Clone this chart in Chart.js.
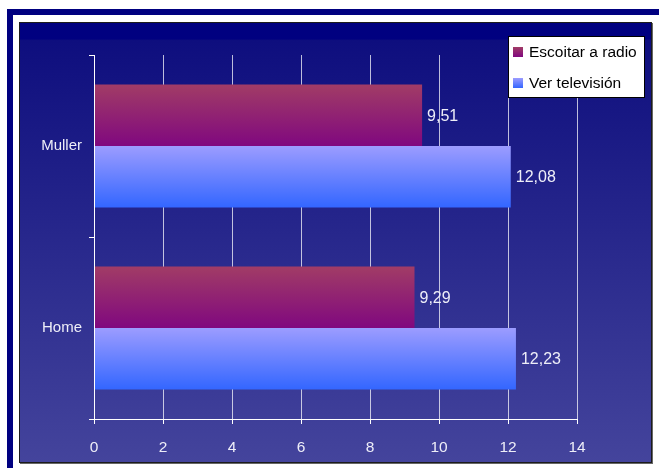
<!DOCTYPE html>
<html>
<head>
<meta charset="utf-8">
<script src="https://cdn.jsdelivr.net/npm/chart.js@4.4.1/dist/chart.umd.min.js"></script>
<style>
  html, body { margin:0; padding:0; background:#fff; width:659px; height:468px; overflow:hidden; }
  #frame { position:absolute; left:7px; top:9px; width:720px; height:540px; border:6px solid #000080; }
  #panel { position:absolute; left:19px; top:22px; width:631px; height:439px; border:1px solid #1c1c1c; box-shadow:1px 1px 0 #666; }
  canvas { display:block; }
</style>
</head>
<body>
<div id="frame"></div>
<div id="panel"><canvas id="chart" width="631" height="439"></canvas></div>
<script>
/* ── DATA ── */
const CATEGORIES = ['Muller', 'Home'];
const SERIES = ['Escoitar a radio', 'Ver televisión'];
const RADIO = [9.51, 9.29];
const TV = [12.08, 12.23];
const X_MIN = 0, X_MAX = 14, X_STEP = 2;

/* ── STYLE ── */
const RADIO_GRAD = ['#a13c66', '#80087f'];
const TV_GRAD = ['#9c9cff', '#3366ff'];
const TEXT = '#eeeef8';
const FONT = "'Liberation Sans', Arial, sans-serif";
const CAT_PCT = 0.676;

function barFill(c, colors) {
  const chart = c.chart, y = chart.scales && chart.scales.y;
  if (!y || c.dataIndex == null || !isFinite(y.height) || !y.height) return colors[1];
  const center = y.getPixelForValue(c.dataIndex);
  const half = (y.height / CATEGORIES.length) * CAT_PCT / 2;
  const top = c.datasetIndex === 0 ? center - half : center;
  if (!isFinite(top) || !isFinite(half)) return colors[1];
  const g = chart.ctx.createLinearGradient(0, top, 0, top + half);
  g.addColorStop(0, colors[0]);
  g.addColorStop(1, colors[1]);
  return g;
}

/* ── PLUGINS ── */
const background = {
  id: 'background',
  beforeDraw(chart) {
    const { ctx, width, height } = chart;
    const g = ctx.createLinearGradient(0, 0, 0, height);
    g.addColorStop(0, '#000080');
    g.addColorStop(0.036, '#000080');
    g.addColorStop(0.04, '#0e0e7e');
    g.addColorStop(1, '#44449c');
    ctx.save();
    ctx.fillStyle = g;
    ctx.fillRect(0, 0, width, height);
    ctx.restore();
  }
};

const valueLabels = {
  id: 'valueLabels',
  afterDatasetsDraw(chart) {
    const ctx = chart.ctx;
    ctx.save();
    // y axis line sits on top of bars in the original
    const x0 = Math.round(chart.scales.x.getPixelForValue(X_MIN)) + 0.5;
    ctx.strokeStyle = '#fff';
    ctx.lineWidth = 1;
    ctx.beginPath();
    ctx.moveTo(x0, chart.chartArea.top);
    ctx.lineTo(x0, chart.chartArea.bottom);
    ctx.stroke();

    ctx.fillStyle = TEXT;
    ctx.font = '16px ' + FONT;
    ctx.textAlign = 'left';
    ctx.textBaseline = 'middle';
    chart.data.datasets.forEach((ds, i) => {
      chart.getDatasetMeta(i).data.forEach((bar, j) => {
        ctx.fillText(ds.data[j].toFixed(2).replace('.', ','), bar.x + 5, bar.y + 1);
      });
    });
    ctx.restore();
  }
};

const boxLegend = {
  id: 'boxLegend',
  afterDraw(chart) {
    const ctx = chart.ctx;
    const bx = 488.5, by = 13.5, bw = 136, bh = 61;
    ctx.save();
    ctx.fillStyle = '#fff';
    ctx.fillRect(bx, by, bw, bh);
    ctx.strokeStyle = '#000';
    ctx.lineWidth = 1;
    ctx.strokeRect(bx, by, bw, bh);
    ctx.font = '15.5px ' + FONT;
    ctx.textBaseline = 'middle';
    chart.data.datasets.forEach((ds, i) => {
      const cy = 29 + i * 31;
      const g = ctx.createLinearGradient(0, cy - 5, 0, cy + 5);
      g.addColorStop(0, ds.grad[0]);
      g.addColorStop(1, ds.grad[1]);
      ctx.fillStyle = g;
      ctx.fillRect(493, cy - 5, 10, 10);
      ctx.fillStyle = '#000';
      ctx.fillText(ds.label, 509, cy + 1);
    });
    ctx.restore();
  }
};

/* ── CHART ── */
new Chart(document.getElementById('chart'), {
  type: 'bar',
  data: {
    labels: CATEGORIES,
    datasets: [
      { label: SERIES[0], data: RADIO, grad: RADIO_GRAD, backgroundColor: c => barFill(c, RADIO_GRAD) },
      { label: SERIES[1], data: TV, grad: TV_GRAD, backgroundColor: c => barFill(c, TV_GRAD) }
    ]
  },
  options: {
    indexAxis: 'y',
    responsive: false,
    animation: false,
    categoryPercentage: CAT_PCT,
    barPercentage: 1,
    layout: { padding: { left: 0, top: 32, right: 74, bottom: 0 } },
    plugins: { legend: { display: false }, tooltip: { enabled: false } },
    scales: {
      x: {
        min: X_MIN, max: X_MAX,
        afterFit: s => { s.height = 43; },
        grid: { color: 'rgba(255,255,255,0.72)', tickColor: '#fff', tickLength: 5 },
        border: { color: '#fff' },
        ticks: { stepSize: X_STEP, color: TEXT, padding: 14, font: { family: FONT, size: 15.5 } }
      },
      y: {
        afterFit: s => { s.width = 74; },
        offset: true,
        grid: { offset: true, drawOnChartArea: false, color: '#fff', tickLength: 5 },
        border: { color: '#fff' },
        ticks: { color: TEXT, padding: 7, font: { family: FONT, size: 15 } }
      }
    }
  },
  plugins: [background, valueLabels, boxLegend]
});
</script>
</body>
</html>
